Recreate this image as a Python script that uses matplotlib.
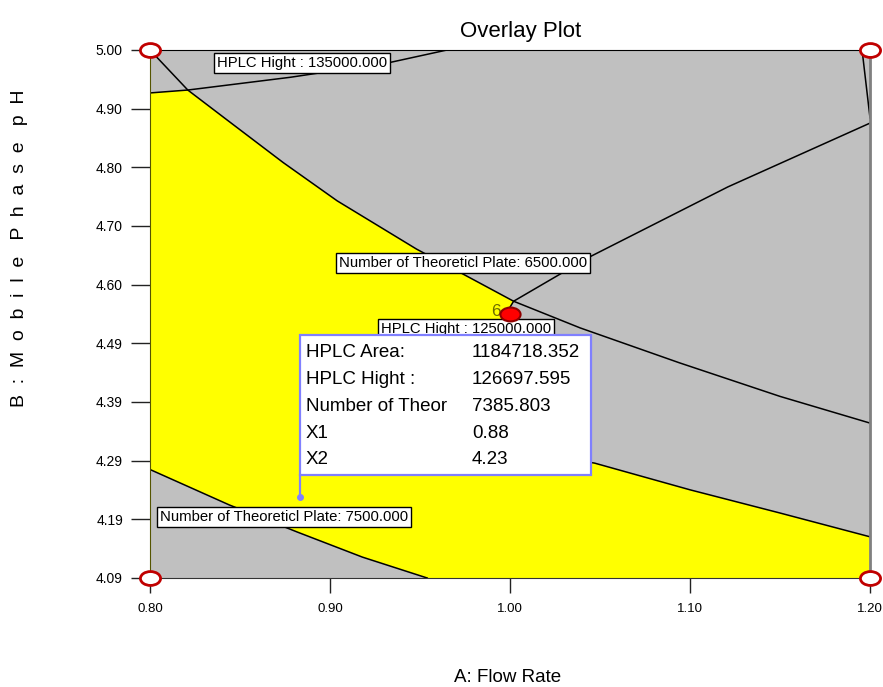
import numpy as np
import matplotlib.pyplot as plt
from matplotlib.markers import MarkerStyle
from matplotlib.patches import Rectangle, Polygon
from matplotlib.transforms import Affine2D

# =========================
# data
# =========================
x_ticks = [0.80, 0.90, 1.00, 1.10, 1.20]
y_ticks = np.linspace(4.09, 5.00, 10)   # labels 4.09 ... 5.00

# HPLC Hight = 135000 contour (top left)
h135_x = [0.800, 0.821, 0.878, 0.934, 0.965]
h135_y = [4.926, 4.931, 4.953, 4.979, 5.000]

# Number of Theoretical Plate = 6500 contour (diagonal)
plate6500_x = [0.800, 0.821, 0.843, 0.874, 0.904, 0.948, 0.972, 1.002, 1.039, 1.094, 1.150, 1.200]
plate6500_y = [5.000, 4.931, 4.879, 4.806, 4.740, 4.657, 4.617, 4.567, 4.521, 4.461, 4.403, 4.357]

# HPLC Hight = 125000 contour (U shape, partly under the flag box)
h125_x = [1.200, 1.121, 1.044, 1.002, 0.994, 0.978, 0.972, 0.994, 1.047, 1.100, 1.150, 1.200]
h125_y = [4.874, 4.764, 4.643, 4.567, 4.526, 4.466, 4.380, 4.316, 4.288, 4.242, 4.202, 4.161]

# Number of Theoretical Plate = 7500 contour (bottom left)
plate7500_x = [0.800, 0.844, 0.882, 0.918, 0.954]
plate7500_y = [4.277, 4.216, 4.169, 4.126, 4.090]

# short piece in the top right corner
short_x = [1.1956, 1.200]
short_y = [5.000, 4.883]

# design points
design_x = [0.80, 0.80, 1.20, 1.20]
design_y = [5.00, 4.09, 5.00, 4.09]
center_x, center_y, center_n = 1.00, 4.545, 6

# flag point
flag_x, flag_y = 0.8833, 4.23
flag_names = ["HPLC Area:", "HPLC Hight :", "Number of Theor", "X1", "X2"]
flag_values = ["1184718.352", "126697.595", "7385.803", "0.88", "4.23"]

# contour labels: text, level, position
labels = [("HPLC Hight : ", 135000, 0.8844, 4.9776),
          ("Number of Theoreticl Plate: ", 6500, 0.9739, 4.6329),
          ("HPLC Hight : ", 125000, 0.9756, 4.5191),
          ("Number of Theoreticl Plate: ", 7500, 0.8744, 4.1951)]

xmin, xmax = 0.80, 1.20
ymin, ymax = 4.09, 5.00

plt.rcParams['font.family'] = ['Liberation Sans', 'DejaVu Sans']

# =========================
# figure
# =========================
fig = plt.figure(figsize=(8.83, 6.87), dpi=100)
ax = fig.add_axes([150/883, 1 - 578/687, 720/883, 528/687])
ax.set_xlim(xmin, xmax)
ax.set_ylim(ymin, ymax)
ax.set_facecolor('#C0C0C0')

# yellow sweet spot
yel_x = h135_x[:2] + plate6500_x[2:8] + h125_x[4:] + [xmax] + plate7500_x[::-1]
yel_y = h135_y[:2] + plate6500_y[2:8] + h125_y[4:] + [ymin] + plate7500_y[::-1]
ax.add_patch(Polygon(np.column_stack([yel_x, yel_y]), closed=True,
                     facecolor='#FFFF00', edgecolor='none', zorder=1))

for xs, ys in [(h135_x, h135_y), (plate6500_x, plate6500_y), (h125_x, h125_y),
               (plate7500_x, plate7500_y), (short_x, short_y)]:
    ax.plot(xs, ys, color='black', lw=1.1, zorder=2, solid_joinstyle='round')

# contour labels
for txt, lev, lx, ly in labels:
    ax.text(lx, ly, f"{txt}{lev:.3f}", ha='center', va='center', fontsize=10.7,
            zorder=4,
            bbox=dict(boxstyle='square,pad=0.2', facecolor='white', edgecolor='black', lw=1))

# flag box
box_w, box_h, box_gap = 0.1615, 0.241, 0.037
ax.add_patch(Rectangle((flag_x, flag_y + box_gap), box_w, box_h, facecolor='white',
                       edgecolor='#8080FF', lw=1.6, zorder=5))
ax.plot([flag_x, flag_x], [flag_y, flag_y + box_gap], color='#8080FF', lw=1.6, zorder=5)
ax.plot(flag_x, flag_y, 'o', color='#8080FF', ms=4, zorder=5)
for i, (nm, val) in enumerate(zip(flag_names, flag_values)):
    ry = flag_y + box_gap + box_h - 0.0295 - i * 0.0462
    ax.text(flag_x + 0.0033, ry, nm, ha='left', va='center', fontsize=13.5, zorder=6)
    ax.text(0.9789, ry, val, ha='left', va='center', fontsize=13.5, zorder=6)

# design points
oval = MarkerStyle('o', transform=Affine2D().scale(1.45, 1.0))
ax.plot(design_x, design_y, linestyle='none', marker=oval, ms=10, mfc='white',
        mec='#C00000', mew=2, clip_on=False, zorder=7)
ax.plot(center_x, center_y, linestyle='none', marker=oval, ms=10, mfc='#FF0000',
        mec='#900000', mew=1.5, zorder=7)
ax.text(center_x - 0.0078, center_y + 0.004, str(center_n), ha='center', va='center',
        fontsize=12.5, color='#6b6b00', zorder=6)

# axes styling
ax.set_xticks(x_ticks)
ax.set_xticklabels([f"{v:.2f}" for v in x_ticks], fontsize=9.5)
ax.set_yticks(y_ticks)
ax.set_yticklabels([f"{v:.2f}" for v in y_ticks], fontsize=10)
ax.tick_params(axis='y', direction='out', length=13.7, width=1, pad=5.8, color='#222222')
ax.tick_params(axis='x', direction='out', length=10.8, width=1, pad=7, color='#222222')
ax.spines['top'].set_color('black')
ax.spines['left'].set_color('#555500')
ax.spines['bottom'].set_color('#333333')
ax.spines['right'].set_color('#808080')
ax.spines['right'].set_linewidth(2)

fig.text(521/883, 1 - 31/687, "Overlay Plot", ha='center', va='center', fontsize=16)
fig.text(508/883, 1 - 678/687, "A: Flow Rate", ha='center', va='center', fontsize=13.5)
fig.text(20/883, 1 - 248/687, "B  :  M  o  b  i  l  e   P  h  a  s  e   p  H",
         rotation=90, ha='center', va='center', fontsize=14)

fig.savefig('out.png', dpi=100)
